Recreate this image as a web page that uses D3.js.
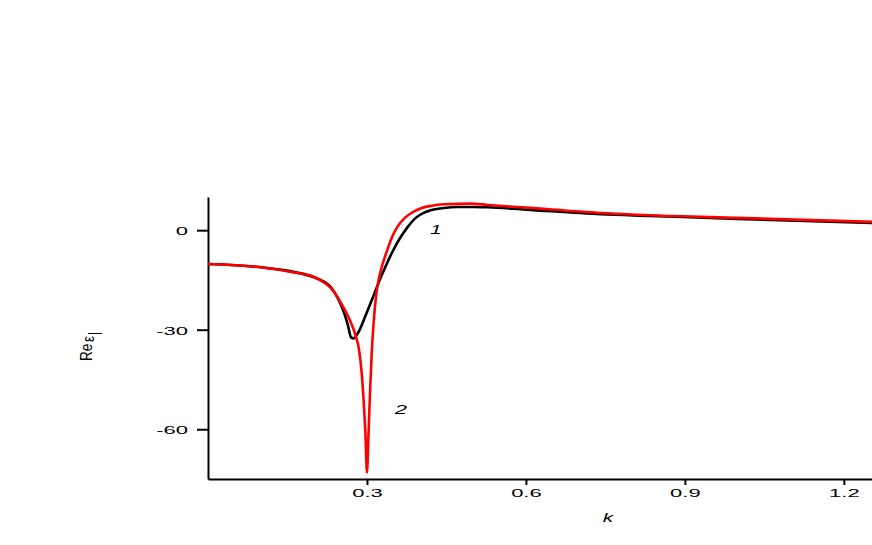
<!DOCTYPE html>
<meta charset="utf-8">

<style>
body { margin: 0; background: #fff; }
.axis path, .axis line { stroke: #000; stroke-width: 2px; }
.axis text { font-family: "Liberation Sans", Arial, sans-serif; font-size: 11px; fill: #000; }
.lbl { font-family: "Liberation Sans", Arial, sans-serif; fill: #000; }
</style>

<body>

<script src="https://d3js.org/d3.v7.min.js"></script>

<script>

// data
var kBlack = [0, 0.1, 0.2, 0.232, 0.245, 0.257, 0.264, 0.270, 0.275, 0.283, 0.298, 0.313, 0.326, 0.340, 0.351, 0.364, 0.377, 0.390, 0.402, 0.420, 0.445, 0.470, 0.50, 0.528, 0.6, 0.742, 0.836, 1.0, 1.255];
var reBlack = [-10.2, -11.2, -14.2, -17.2, -20.5, -25, -28.6, -32.3, -32.6, -31, -25.5, -19.5, -14.3, -9.2, -5.6, -2.0, 1.0, 3.4, 4.8, 6.0, 6.7, 7.0, 7.0, 6.9, 6.2, 4.8, 4.3, 3.4, 2.2];

var kRed = [0, 0.1, 0.157, 0.2, 0.213, 0.232, 0.251, 0.270, 0.278, 0.285, 0.290, 0.294, 0.297, 0.300, 0.303, 0.306, 0.309, 0.313, 0.317, 0.322, 0.328, 0.334, 0.340, 0.347, 0.357, 0.370, 0.385, 0.402, 0.420, 0.445, 0.496, 0.528, 0.6, 0.742, 0.836, 1.0, 1.255];
var reRed = [-10.2, -11.2, -12.6, -14.1, -15.2, -17.5, -22, -28, -31.5, -36, -43, -52, -61, -73, -61, -48, -37, -27, -20, -15, -11, -8, -5.2, -2.2, 0.9, 3.5, 5.3, 6.6, 7.3, 7.8, 8.0, 7.6, 6.8, 5.2, 4.5, 3.7, 2.5];

var xTicks = [0.3, 0.6, 0.9, 1.2];
var yTicks = [0, -30, -60];

var width = 872, height = 545;

var x = d3.scaleLinear()
    .domain([0, 1.255])
    .range([208, 873]);

var y = d3.scaleLinear()
    .domain([-75, 10])
    .range([479, 197]);

var svg = d3.select("body")
  .append("svg")
    .attr("width", width)
    .attr("height", height);

// x axis
var gx = svg.append("g")
    .attr("class", "axis")
    .attr("transform", "translate(0,479)")
    .call(d3.axisBottom(x).tickValues(xTicks).tickSize(6).tickSizeOuter(0).tickFormat(d3.format(".1f")));
gx.selectAll("text")
    .attr("y", 10)
    .attr("transform", "scale(2,1)");

// y axis (plain hyphen for minus, like the original)
var gy = svg.append("g")
    .attr("class", "axis")
    .attr("transform", "translate(208,0)")
    .call(d3.axisLeft(y).tickValues(yTicks).tickSize(11).tickSizeOuter(0).tickFormat(function(d) { return String(d); }));
gy.selectAll("text")
    .attr("x", -10)
    .attr("dy", "0.4em")
    .attr("transform", "scale(2,1)");

var line = d3.line()
    .x(function(d) { return x(d[0]); })
    .y(function(d) { return y(d[1]); })
    .curve(d3.curveMonotoneX);

svg.append("path")
    .datum(d3.zip(kBlack, reBlack))
    .attr("fill", "none")
    .attr("stroke", "#000")
    .attr("stroke-width", 2.6)
    .attr("d", line);

svg.append("path")
    .datum(d3.zip(kRed, reRed))
    .attr("fill", "none")
    .attr("stroke", "#ff0000")
    .attr("stroke-width", 2.6)
    .attr("d", line);

// curve labels
svg.append("text").attr("class", "lbl")
    .attr("transform", "translate(" + x(0.43) + "," + y(-1.2) + ") scale(1.6,1)")
    .attr("text-anchor", "middle")
    .style("font-size", "13px").style("font-style", "italic")
    .text("1");

svg.append("text").attr("class", "lbl")
    .attr("transform", "translate(" + x(0.364) + "," + y(-55.5) + ") scale(1.7,1)")
    .attr("text-anchor", "middle")
    .style("font-size", "13px").style("font-style", "italic")
    .text("2");

// axis titles
svg.append("text").attr("class", "lbl")
    .attr("transform", "translate(608,522) scale(1.6,1)")
    .attr("text-anchor", "middle")
    .style("font-size", "13px").style("font-style", "italic")
    .text("k");

var yl = svg.append("text").attr("class", "lbl")
    .attr("transform", "translate(92,361) rotate(-90) scale(0.85,1)")
    .style("font-size", "16px");
yl.append("tspan").text("Re");
yl.append("tspan").attr("dx", 2).attr("dy", 2).text("ε");
yl.append("tspan").attr("dy", 5).attr("dx", 1).style("font-size", "14px").text("|");

</script>
</body>
</html>
